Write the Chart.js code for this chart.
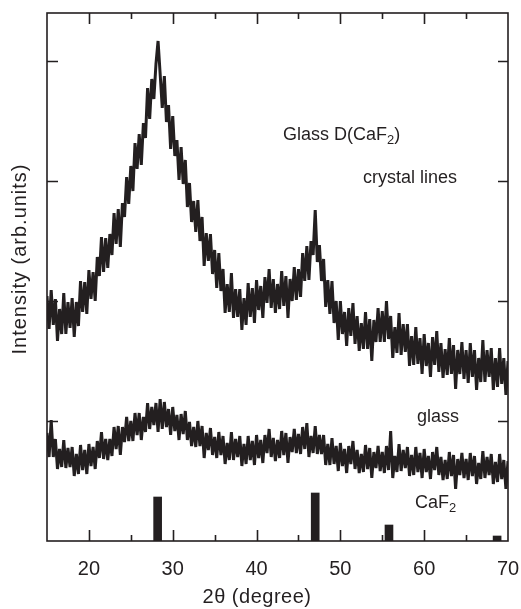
<!DOCTYPE html>
<html>
<head>
<meta charset="utf-8">
<script src="https://cdn.jsdelivr.net/npm/chart.js@4.4.0/dist/chart.umd.min.js"></script>
<style>
  html,body{margin:0;padding:0;background:#fff;}
  #wrap{width:521px;height:609px;}
</style>
</head>
<body>
<div id="wrap"><canvas id="xrd" width="521" height="609"></canvas></div>
<script>
// 2-theta scan grid (degree)
const angles = [
  15,15.25,15.5,15.75,16,16.25,16.5,16.75,17,17.25,17.5,17.75,18,18.25,18.5,18.75,19,19.25,19.5,19.75,
  20,20.25,20.5,20.75,21,21.25,21.5,21.75,22,22.25,22.5,22.75,23,23.25,23.5,23.75,24,24.25,24.5,24.75,
  25,25.25,25.5,25.75,26,26.25,26.5,26.75,27,27.25,27.5,27.75,28,28.25,28.5,28.75,29,29.25,29.5,29.75,
  30,30.25,30.5,30.75,31,31.25,31.5,31.75,32,32.25,32.5,32.75,33,33.25,33.5,33.75,34,34.25,34.5,34.75,
  35,35.25,35.5,35.75,36,36.25,36.5,36.75,37,37.25,37.5,37.75,38,38.25,38.5,38.75,39,39.25,39.5,39.75,
  40,40.25,40.5,40.75,41,41.25,41.5,41.75,42,42.25,42.5,42.75,43,43.25,43.5,43.75,44,44.25,44.5,44.75,
  45,45.25,45.5,45.75,46,46.25,46.5,46.75,47,47.25,47.5,47.75,48,48.25,48.5,48.75,49,49.25,49.5,49.75,
  50,50.25,50.5,50.75,51,51.25,51.5,51.75,52,52.25,52.5,52.75,53,53.25,53.5,53.75,54,54.25,54.5,54.75,
  55,55.25,55.5,55.75,56,56.25,56.5,56.75,57,57.25,57.5,57.75,58,58.25,58.5,58.75,59,59.25,59.5,59.75,
  60,60.25,60.5,60.75,61,61.25,61.5,61.75,62,62.25,62.5,62.75,63,63.25,63.5,63.75,64,64.25,64.5,64.75,
  65,65.25,65.5,65.75,66,66.25,66.5,66.75,67,67.25,67.5,67.75,68,68.25,68.5,68.75,69,69.25,69.5,69.75,
  70
];

// upper trace: crystal lines
const crystalLines = [
  245,212,251,216,242,200,232,207,248,207,239,213,243,204,239,215,260,229,259,227,
  271,242,269,240,284,265,304,269,303,273,307,286,328,297,332,294,338,324,364,337,
  375,350,398,372,407,376,418,403,453,422,462,442,477,500,467,433,465,419,436,392,
  425,385,401,361,394,357,381,334,358,319,340,309,341,300,324,275,308,280,307,267,
  291,253,288,250,272,228,257,229,268,223,252,224,252,211,243,216,258,224,253,218,
  261,231,255,223,264,238,272,233,262,228,257,232,270,235,265,223,262,240,274,241,
  272,244,288,260,295,261,300,286,331,279,296,260,282,234,261,227,260,218,240,201,
  240,207,229,195,233,205,238,197,225,190,218,192,229,192,222,180,221,199,233,199,
  230,199,240,202,225,183,214,188,228,186,217,189,217,175,205,176,214,177,203,167,
  207,175,198,164,204,176,210,169,198,163,192,166,203,167,196,152,191,167,199,162,
  191,158,198,164,191,151,183,159,201,159,191,164,193,151,183,154,193,157,183,146,
  180
];

// lower trace: glass
const glassTrace = [
  108,84,121,84,102,72,92,74,101,73,93,74,94,65,87,67,96,71,91,67,
  97,75,94,72,100,83,109,82,102,81,102,85,114,92,115,86,114,99,124,100,
  120,100,128,106,128,101,124,109,138,112,134,116,138,109,142,112,139,114,132,106,
  134,110,126,101,127,107,130,101,119,95,114,94,120,95,115,83,108,91,113,86,
  104,83,109,86,105,77,98,81,109,81,102,84,105,75,97,77,105,81,100,76,
  106,83,101,78,106,88,112,84,103,80,101,83,110,86,108,78,104,89,112,88,
  107,87,114,92,118,84,105,88,115,87,106,87,106,76,97,76,103,77,95,70,
  98,75,92,68,95,77,100,72,91,68,87,69,96,72,93,63,89,73,95,70,
  89,68,95,71,110,63,85,69,97,70,91,73,94,65,86,66,94,69,88,63,
  92,69,85,62,89,71,94,66,84,61,81,62,89,65,86,52,82,66,88,63,
  82,61,88,65,85,57,78,62,90,63,84,66,87,57,79,59,87,62,81,52,
  80
];

// CaF2 reference lines
const caf2Angles = [28.2, 47.0, 55.8, 68.7];
const caf2Heights = [44, 48, 16, 5];

const xMajor = [20, 30, 40, 50, 60, 70];
const yTickVals = [120, 240, 360, 480];

const ink = '#231f20';
const FONT = "'Liberation Sans', Arial, sans-serif";

function drawSub(ctx, parts, x, y, size){
  // parts: [text, isSub]
  let cx = x;
  parts.forEach(([t, sub]) => {
    ctx.font = `${sub ? size*0.72 : size}px ${FONT}`;
    ctx.fillText(t, cx, sub ? y + size*0.3 : y);
    cx += ctx.measureText(t).width;
  });
}

const notes = [
  {parts:[['Glass D(CaF',0],['2',1],[')',0]], x:43.15, y:406},
  {parts:[['crystal lines',0]], x:52.7, y:363},
  {parts:[['glass',0]], x:59.15, y:124},
  {parts:[['CaF',0],['2',1]], x:58.9, y:38}
];

const framePlugin = {
  id:'frame',
  afterDraw(chart){
    const {ctx, chartArea:a, scales:{x, y}} = chart;
    ctx.save();
    ctx.strokeStyle = ink;
    ctx.lineWidth = 1.6;
    ctx.strokeRect(a.left, a.top, a.right - a.left, a.bottom - a.top);
    ctx.beginPath();
    for(let v = 20; v < 70; v += 5){
      const px = Math.round(x.getPixelForValue(v)) + 0.5;
      const len = v % 10 === 0 ? 11 : 6;
      ctx.moveTo(px, a.bottom); ctx.lineTo(px, a.bottom - len);
      ctx.moveTo(px, a.top); ctx.lineTo(px, a.top + len);
    }
    yTickVals.forEach(v => {
      const py = Math.round(y.getPixelForValue(v)) + 0.5;
      ctx.moveTo(a.left, py); ctx.lineTo(a.left + 11, py);
      ctx.moveTo(a.right, py); ctx.lineTo(a.right - 10, py);
    });
    ctx.stroke();

    ctx.fillStyle = ink;
    ctx.textBaseline = 'middle';
    ctx.textAlign = 'left';
    notes.forEach(n => drawSub(ctx, n.parts, x.getPixelForValue(n.x), y.getPixelForValue(n.y), 18));

    // axis titles
    ctx.font = `20px ${FONT}`;
    ctx.textAlign = 'center';
    ctx.letterSpacing = '0.5px';
    ctx.fillText('2\u03b8 (degree)', 257, 597);
    ctx.save();
    ctx.translate(20, 259);
    ctx.rotate(-Math.PI/2);
    ctx.letterSpacing = '1px';
    ctx.fillText('Intensity (arb.units)', 0, 0);
    ctx.restore();
    ctx.restore();
  }
};

const toXY = vals => vals.map((v, i) => ({x: angles[i], y: v}));

new Chart(document.getElementById('xrd'), {
  type:'line',
  data:{
    datasets:[
      {label:'crystal lines', data:toXY(crystalLines), borderColor:ink, borderWidth:3,
       borderJoinStyle:'bevel', pointRadius:0, tension:0},
      {label:'glass', data:toXY(glassTrace), borderColor:ink, borderWidth:3,
       borderJoinStyle:'bevel', pointRadius:0, tension:0},
      {label:'CaF2', type:'bar', data:caf2Angles.map((a, i) => ({x:a, y:caf2Heights[i]})),
       backgroundColor:ink, barThickness:8}
    ]
  },
  options:{
    responsive:false,
    animation:false,
    devicePixelRatio:1,
    layout:{padding:{top:13, right:13, left:0, bottom:0}},
    plugins:{legend:{display:false}, tooltip:{enabled:false}},
    scales:{
      x:{
        type:'linear', min:15, max:70, offset:false,
        grid:{display:false, drawTicks:false}, border:{display:false},
        ticks:{stepSize:5, autoSkip:false, maxRotation:0, padding:16, color:ink,
               font:{family:FONT, size:20},
               callback:v => xMajor.includes(v) ? v : ''},
        afterFit:s => { s.height = 68; s.paddingLeft = 0; s.paddingRight = 0; }
      },
      y:{
        min:0, max:528,
        grid:{display:false, drawTicks:false}, border:{display:false},
        ticks:{display:false, stepSize:120},
        afterFit:s => { s.width = 47; }
      }
    }
  },
  plugins:[framePlugin]
});
</script>
</body>
</html>
